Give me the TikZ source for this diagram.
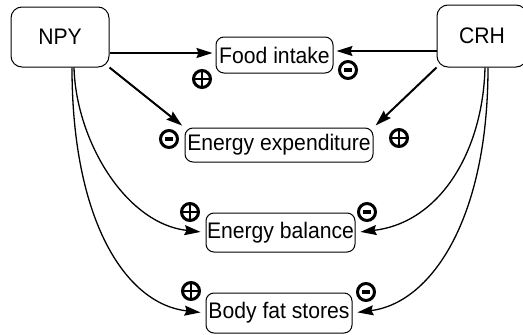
\documentclass[tikz,border=0pt]{standalone}
\usepackage{fontspec}
\setmainfont{Liberation Sans}[FakeStretch=0.94]
\usetikzlibrary{arrows.meta}
\begin{document}
\begin{tikzpicture}[x=1pt,y=-1pt,
  box/.style={draw,line width=1pt,rounded corners=8pt,inner sep=0.5pt,font=\fontsize{22.5}{26}\selectfont},
  bigbox/.style={box,rounded corners=11pt},
  arr/.style={-{Stealth[length=16pt,width=10pt,inset=2pt]},line width=2pt,shorten >=3pt},
  carr/.style={-{Stealth[length=16pt,width=10pt,inset=2pt]},line width=1.3pt,shorten >=5pt},
  sign/.style={circle,draw,line width=3pt,minimum size=17pt,inner sep=0pt},
  possign/.style={sign,path picture={
     \draw[line width=2.2pt] (path picture bounding box.north) -- (path picture bounding box.south)
       (path picture bounding box.west) -- (path picture bounding box.east);}},
  negsign/.style={sign,path picture={
     \fill ([xshift=-3.6pt,yshift=-1.8pt]path picture bounding box.center) rectangle ++(7.2pt,3.6pt);}}
]
\useasboundingbox (0,0) rectangle (523,335);
\node[bigbox,minimum width=98pt,minimum height=60pt] (NPY) at (60,37) {NPY};
\node[bigbox,minimum width=90pt,minimum height=62pt] (CRH) at (482,36) {CRH};
\node[box,minimum width=117pt,minimum height=36pt] (FI) at (274.5,55) {Food intake};
\node[box,minimum width=188pt,minimum height=34pt] (EE) at (279,145) {Energy expenditure};
\node[box,minimum width=149pt,minimum height=39pt] (EB) at (280.5,232.5) {Energy balance};
\node[box,minimum width=146pt,minimum height=40pt] (BF) at (279,313) {Body fat stores};

\draw[arr] ([yshift=2pt]NPY.east |- FI.west) -- ([yshift=2pt]FI.west);
\draw[arr,line width=1.1pt] ([yshift=4pt]CRH.west |- FI.east) -- ([yshift=4pt]FI.east);
\draw[arr] (NPY.south east) -- (EE.north west);
\draw[arr] (CRH.south west) -- (EE.north east);

\draw[carr] ([xshift=14pt]NPY.south) .. controls +(2,73) and +(-80,-9) .. (EB.west);
\draw[carr] ([xshift=12pt]NPY.south) .. controls +(0,153) and +(-80,-9) .. (BF.west);
\draw[carr] ([xshift=3pt]CRH.south) .. controls +(-2,83) and +(85,-10) .. (EB.east);
\draw[carr] ([xshift=6pt]CRH.south) .. controls +(0,153) and +(78,-10) .. (BF.east);

\node[possign] (s1) at (202,79) {};
\node[negsign] (s2) at (348,70) {};
\node[negsign] (s3) at (169,139) {};
\node[possign] (s4) at (399,138) {};
\node[possign] (s5) at (190,212) {};
\node[negsign] (s6) at (367,212) {};
\node[possign] (s7) at (191,291) {};
\node[negsign] (s8) at (366,292) {};
\end{tikzpicture}
\end{document}
